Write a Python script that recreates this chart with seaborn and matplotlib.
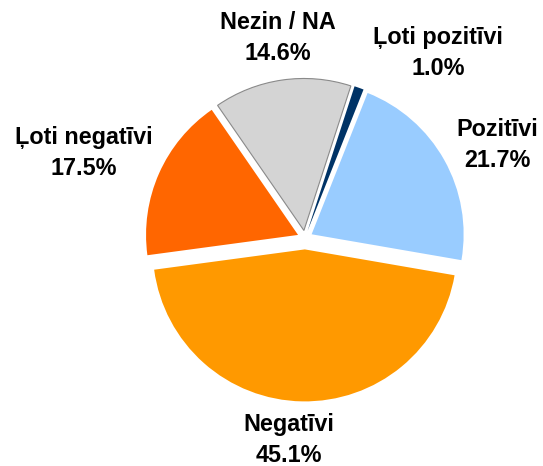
import matplotlib
matplotlib.use("Agg")
import matplotlib.pyplot as plt
import seaborn as sns

categories = ["Ļoti pozitīvi", "Pozitīvi", "Negatīvi", "Ļoti negatīvi", "Nezin / NA"]
values = [1.0, 21.7, 45.1, 17.5, 14.6]
colors = ["#003366", "#99CCFF", "#FF9900", "#FF6600", "#D4D4D4"]

sns.set_theme(style="white")
plt.rcParams["font.family"] = ["Liberation Sans", "DejaVu Sans"]

W, H = 543, 466
fig = plt.figure(figsize=(W / 100, H / 100), dpi=100)
ax = fig.add_axes([0, 0, 1, 1])

scale = 152.0
cx, cy = 305.0, 238.0

explode = [0.05, 0.05, 0.075, 0.05, 0.05]
wedges, _ = ax.pie(values, colors=colors, startangle=72, counterclock=False,
                   explode=explode, radius=1.0, center=(0, 0),
                   wedgeprops=dict(linewidth=0))
ax.set_xlim(-cx / scale, (W - cx) / scale)
ax.set_ylim(-(H - cy) / scale, cy / scale)
ax.set_aspect("equal")
ax.axis("off")
wedges[4].set_edgecolor("#8a8a8a")
wedges[4].set_linewidth(0.8)

label_pos = [(0.875, 1.22), (1.263, 0.612), (-0.105, -1.329),
             (-1.454, 0.56), (-0.178, 1.316)]
for cat, val, (x, y) in zip(categories, values, label_pos):
    ax.text(x, y, f"{cat}\n{val:.1f}%", ha="center", va="center",
            fontsize=16.8, fontweight="bold", linespacing=1.45, color="black")

fig.savefig("out.png", dpi=100)
